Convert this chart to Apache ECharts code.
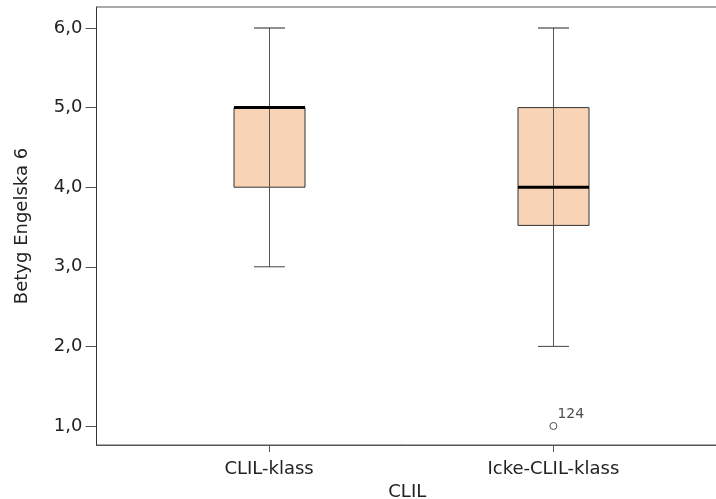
<!DOCTYPE html>
<html>
<head>
<meta charset="utf-8">
<script src="https://cdn.jsdelivr.net/npm/echarts@6/dist/echarts.min.js"></script>
<style>html,body{margin:0;padding:0;background:#fff}#c{width:716px;height:499px}</style>
</head>
<body>
<div id="c"></div>
<script>
const categories = ['CLIL-klass', 'Icke-CLIL-klass'];
const mins = [3.0, 2.0];
const q1s = [4.0, 3.52];
const medians = [5.0, 4.0];
const q3s = [5.0, 5.0];
const maxs = [6.0, 6.0];
const outlierCategory = ['Icke-CLIL-klass'];
const outlierValues = [1.0];
const outlierLabels = ['124'];
const yTicks = [1, 2, 3, 4, 5, 6];

const FONT = 'DejaVu Sans';
const chart = echarts.init(document.getElementById('c'), null, {renderer: 'canvas'});

const boxData = categories.map((c, i) => [i + 1, mins[i], q1s[i], medians[i], q3s[i], maxs[i]]);
const outData = outlierCategory.map((c, i) => ({value: [categories.indexOf(c) + 1, outlierValues[i]], name: outlierLabels[i]}));

const BOX_W = 71, CAP_W = 31;

chart.setOption({
  animation: false,
  grid: {left: 96.5, right: -2, top: 7, bottom: 54, show: true, borderColor: '#555', borderWidth: 1, backgroundColor: 'transparent', outerBoundsMode: 'none', containLabel: false},
  xAxis: {
    type: 'value', min: 0.393, max: 2.579,
    name: 'CLIL', nameLocation: 'middle', nameGap: 34,
    nameTextStyle: {fontFamily: FONT, fontSize: 18, color: '#222'},
    splitLine: {show: false},
    axisLine: {show: true, onZero: false, lineStyle: {color: '#555', width: 1}},
    axisTick: {show: true, length: 7, customValues: [1, 2], lineStyle: {color: '#555'}},
    axisLabel: {customValues: [1, 2], formatter: v => categories[Math.round(v) - 1] || '', fontFamily: FONT, fontSize: 18, color: '#222', margin: 15}
  },
  yAxis: {
    type: 'value', min: 0.761, max: 6.264,
    name: 'Betyg Engelska 6', nameLocation: 'middle', nameGap: 65, nameRotate: 90,
    nameTextStyle: {fontFamily: FONT, fontSize: 18, color: '#222'},
    splitLine: {show: false},
    axisLine: {show: true, onZero: false, lineStyle: {color: '#333', width: 1}},
    axisTick: {show: true, length: 11, customValues: yTicks, lineStyle: {color: '#555'}},
    axisLabel: {customValues: yTicks, formatter: v => v.toFixed(1).replace('.', ','), fontFamily: FONT, fontSize: 18, color: '#222', margin: 14}
  },
  series: [
    {
      type: 'custom',
      data: boxData,
      renderItem: function (params, api) {
        const x = api.value(0);
        const pMin = api.coord([x, api.value(1)]);
        const pQ1 = api.coord([x, api.value(2)]);
        const pMed = api.coord([x, api.value(3)]);
        const pQ3 = api.coord([x, api.value(4)]);
        const pMax = api.coord([x, api.value(5)]);
        const cx = Math.round(pMin[0]) + 0.5;
        return {
          type: 'group',
          children: [
            {type: 'rect', shape: {x: cx - BOX_W / 2, y: pQ3[1], width: BOX_W, height: pQ1[1] - pQ3[1]},
              style: {fill: '#f9d3b6', stroke: '#333', lineWidth: 1}},
            {type: 'line', shape: {x1: cx, y1: pMin[1], x2: cx, y2: pMax[1]}, style: {stroke: '#555', lineWidth: 1}},
            {type: 'line', shape: {x1: cx - CAP_W / 2, y1: pMax[1], x2: cx + CAP_W / 2, y2: pMax[1]}, style: {stroke: '#222', lineWidth: 1}},
            {type: 'line', shape: {x1: cx - CAP_W / 2, y1: pMin[1], x2: cx + CAP_W / 2, y2: pMin[1]}, style: {stroke: '#444', lineWidth: 1}},
            {type: 'line', shape: {x1: cx - BOX_W / 2, y1: pMed[1], x2: cx + BOX_W / 2, y2: pMed[1]}, style: {stroke: '#000', lineWidth: 3}}
          ]
        };
      }
    },
    {
      type: 'scatter',
      data: outData,
      symbol: 'circle',
      symbolSize: 7,
      itemStyle: {color: '#fff', borderColor: '#222', borderWidth: 1},
      label: {show: true, position: 'right', distance: 0, offset: [0, -12], formatter: p => p.name, fontFamily: FONT, fontSize: 14, color: '#222'}
    }
  ]
});
</script>
</body>
</html>
